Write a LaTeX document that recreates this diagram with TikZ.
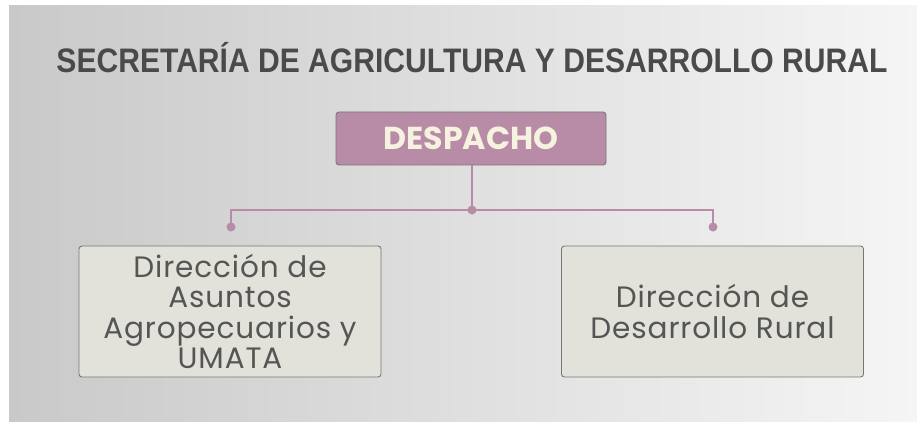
\documentclass[tikz,border=0pt]{standalone}
\usepackage{fontspec}
\setmainfont{Poppins}[LetterSpace=3]
\newfontfamily\headfont{Poppins}
\newfontfamily\titlefont{Liberation Sans}
\definecolor{mauve}{HTML}{B88BA6}
\definecolor{cream}{HTML}{F5F3E0}
\definecolor{boxfill}{HTML}{E2E2DA}
\definecolor{boxline}{HTML}{777777}
\definecolor{txt}{HTML}{555555}
\definecolor{titlec}{HTML}{4A4A4A}
\definecolor{bgl}{HTML}{C9C9C9}
\definecolor{bgr}{HTML}{F5F5F5}
\tikzset{
  unitbox/.style={draw=boxline, line width=0.9pt, fill=boxfill, rounded corners=3pt,
    minimum width=302pt, minimum height=131pt, inner sep=0pt, align=center,
    text=txt, font=\fontsize{29.5}{30.5}\selectfont},
  headbox/.style={draw=boxline, line width=0.9pt, fill=mauve, rounded corners=3pt,
    minimum width=270pt, minimum height=53pt, inner sep=0pt, text=cream},
  link/.style={draw=mauve, line width=2.3pt},
  joint/.style={circle, fill=mauve, inner sep=0pt, minimum size=9pt}
}
\begin{document}
\begin{tikzpicture}[x=1pt,y=-1pt]
\useasboundingbox (0,0) rectangle (917,422);
\shade[left color=bgl, right color=bgr] (9,6) rectangle (917,422);
\node[text=titlec, inner sep=0pt] (title) at (472,58)
  {\resizebox{831pt}{\height}{\titlefont\fontsize{34}{34}\selectfont\bfseries SECRETARÍA DE AGRICULTURA Y DESARROLLO RURAL}};
\node[headbox] (desp) at (471,138.5) {\resizebox{175pt}{!}{\headfont\fontsize{33}{33}\selectfont\bfseries DESPACHO}};
\node[unitbox] (left) at (230,311.5) {Dirección de\\Asuntos\\Agropecuarios y\\UMATA};
\node[unitbox] (right) at (712.5,311.5) {Dirección de\\Desarrollo Rural};
\node[joint] (jc) at (472,210) {};
\node[joint] (jl) at (231,227) {};
\node[joint] (jr) at (713,227) {};
\draw[link] (desp.south -| jc) -- (jc.center);
\draw[link] (jl.center) |- (jc.center) -| (jr.center);
\end{tikzpicture}
\end{document}
